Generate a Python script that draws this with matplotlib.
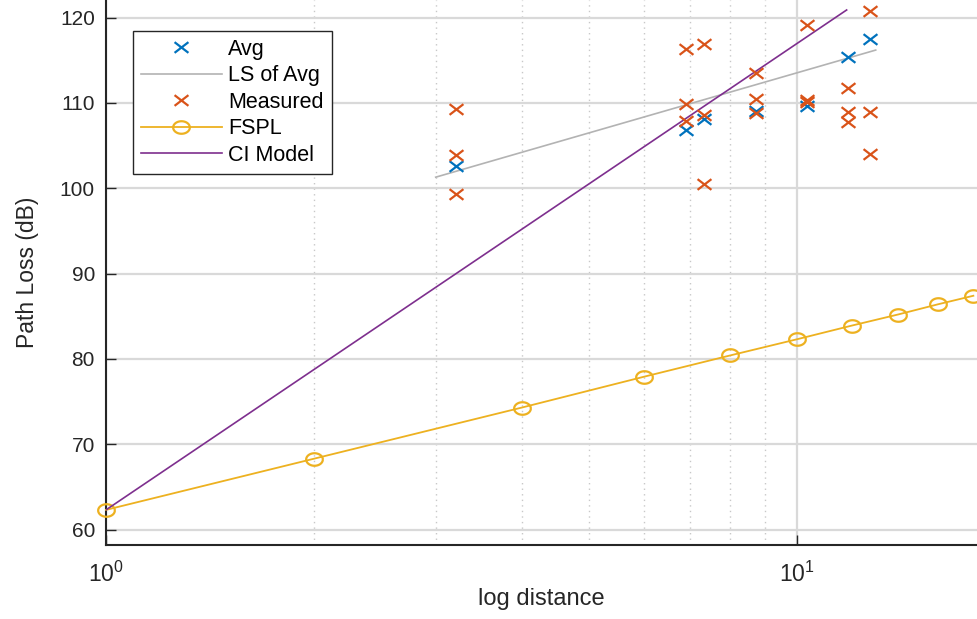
import numpy as np
import matplotlib
matplotlib.use("Agg")
import matplotlib.pyplot as plt
from matplotlib.path import Path

plt.rcParams['font.family'] = ['Liberation Sans', 'DejaVu Sans']
plt.rcParams['mathtext.fontset'] = 'custom'
plt.rcParams['mathtext.rm'] = 'Liberation Sans'

# measured path loss (dB) at each distance
dist_meas = [3.21, 3.21, 3.21,
             6.91, 6.91, 6.91,
             7.33, 7.33, 7.33,
             8.73, 8.73, 8.73,
             10.34, 10.34, 10.34,
             11.86, 11.86, 11.86,
             12.75, 12.75, 12.75]
pl_meas = [109.3, 103.9, 99.3,
           116.3, 109.9, 107.9,
           116.9, 108.6, 100.5,
           113.5, 110.5, 108.8,
           119.1, 110.4, 110.1,
           111.8, 108.9, 107.8,
           120.8, 108.9, 104.0]

# averages
dist_avg = [3.21, 6.91, 7.33, 8.73, 10.34, 11.86, 12.75]
pl_avg = [102.6, 106.8, 108.1, 109.0, 109.7, 115.4, 117.5]

# least squares fit of avg (end points)
ls_x = [3.0, 13.0]
ls_y = [101.3, 116.2]

# FSPL
fspl_x = [1, 2, 4, 6, 8, 10, 12, 14, 16, 18]
fspl_y = [62.3, 68.3, 74.3, 77.9, 80.4, 82.3, 83.9, 85.2, 86.4, 87.4]

# CI model (end points)
ci_x = [1, 11.8]
ci_y = [62.3, 120.9]

# picture is stretched sideways, so markers are a bit wider than tall
t = np.linspace(0, 2 * np.pi, 60)
ell = Path(np.column_stack([1.33 * np.cos(t), np.sin(t)]))
xmark = Path([(-1.3, -1), (1.3, 1), (-1.3, 1), (1.3, -1)],
             [Path.MOVETO, Path.LINETO, Path.MOVETO, Path.LINETO])

fig = plt.figure(figsize=(9.77, 6.19), dpi=100)
ax = fig.add_axes([0.1085, 0.1195, 0.8915, 0.8805])

ax.plot(dist_avg, pl_avg, ls='none', marker=xmark, color='#0072BD', ms=10, mew=1.6,
        label='Avg', zorder=4)
ax.plot(ls_x, ls_y, '-', color='#b3b3b3', lw=1.2, label='LS of Avg', zorder=3)
ax.plot(dist_meas, pl_meas, ls='none', marker=xmark, color='#D95319', ms=10, mew=1.6,
        label='Measured', zorder=4)
ax.plot(fspl_x, fspl_y, '-', color='#EDB120', lw=1.3, marker=ell, ms=12, mfc='none',
        mew=1.6, label='FSPL', zorder=3, clip_on=False)
ax.plot(ci_x, ci_y, '-', color='#7E2F8E', lw=1.2, label='CI Model', zorder=3)

ax.set_xscale('log')
ax.set_xlim(1, 18.22)
ax.set_ylim(58.18, 122.07)
ax.set_yticks([60, 70, 80, 90, 100, 110, 120])

ax.grid(True, which='major', color='#d9d9d9', lw=1.6)
ax.grid(True, which='minor', axis='x', color='#c8c8c8', lw=1, ls=(0, (1, 3)))
ax.set_axisbelow(True)

ax.spines['top'].set_visible(False)
ax.spines['right'].set_visible(False)
for s in ('left', 'bottom'):
    ax.spines[s].set_color('#262626')
    ax.spines[s].set_linewidth(1.5)

ax.tick_params(which='both', direction='in', colors='#262626')
ax.tick_params(axis='y', which='major', length=7, width=1, labelsize=15, pad=8)
ax.tick_params(axis='x', which='major', length=7, width=1, labelsize=16.5, pad=12)
ax.tick_params(which='minor', length=0)
ax.tick_params(axis='x', which='minor', labelbottom=False)

ax.set_xlabel('log distance', fontsize=17, color='#262626', labelpad=1)
ax.set_ylabel('Path Loss (dB)', fontsize=16.5, color='#262626', labelpad=15)

leg = ax.legend(loc='upper left', bbox_to_anchor=(0.031, 0.943), fontsize=15.5,
                frameon=True, fancybox=False, edgecolor='#262626', framealpha=1,
                handlelength=3.75, handletextpad=0.3, labelspacing=0.25,
                borderpad=0.37, borderaxespad=0)
leg.get_frame().set_linewidth(1)

fig.savefig('out.png', dpi=100)
